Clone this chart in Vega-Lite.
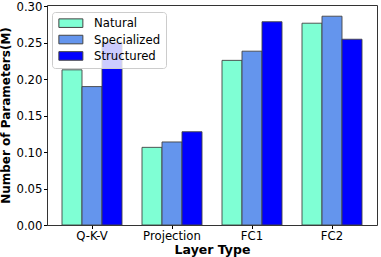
{
  "$schema": "https://vega.github.io/schema/vega-lite/v6.json",
  "width": 330,
  "height": 220,
  "autosize": {"type": "none"},
  "padding": {"left": 47, "top": 5, "right": 4, "bottom": 32},
  "config": {
    "font": "DejaVu Sans",
    "view": {"stroke": "#333", "strokeWidth": 1}
  },
  "data": {
    "values": [
      {"layer": "Q-K-V", "type": "Natural", "value": 0.213},
      {"layer": "Q-K-V", "type": "Specialized", "value": 0.190},
      {"layer": "Q-K-V", "type": "Structured", "value": 0.251},
      {"layer": "Projection", "type": "Natural", "value": 0.1066},
      {"layer": "Projection", "type": "Specialized", "value": 0.114},
      {"layer": "Projection", "type": "Structured", "value": 0.128},
      {"layer": "FC1", "type": "Natural", "value": 0.226},
      {"layer": "FC1", "type": "Specialized", "value": 0.2386},
      {"layer": "FC1", "type": "Structured", "value": 0.279},
      {"layer": "FC2", "type": "Natural", "value": 0.277},
      {"layer": "FC2", "type": "Specialized", "value": 0.2866},
      {"layer": "FC2", "type": "Structured", "value": 0.255}
    ]
  },
  "mark": {"type": "bar", "stroke": "#444", "strokeWidth": 1, "strokeOpacity": 0.9},
  "encoding": {
    "x": {
      "field": "layer",
      "type": "nominal",
      "sort": ["Q-K-V", "Projection", "FC1", "FC2"],
      "scale": {"paddingInner": 0.25, "paddingOuter": 0.1875},
      "axis": {
        "title": "Layer Type",
        "labelAngle": 0,
        "labelFontSize": 11.7,
        "labelColor": "#000",
        "labelPadding": 2,
        "tickSize": 3.5,
        "tickColor": "#000",
        "domain": false,
        "titleFontSize": 12.5,
        "titleFontWeight": "bold",
        "titleColor": "#000",
        "titlePadding": 1
      }
    },
    "xOffset": {"field": "type", "sort": ["Natural", "Specialized", "Structured"]},
    "y": {
      "field": "value",
      "type": "quantitative",
      "scale": {"domain": [0, 0.302], "nice": false},
      "axis": {
        "values": [0, 0.05, 0.1, 0.15, 0.2, 0.25, 0.3],
        "format": ".2f",
        "grid": false,
        "domain": false,
        "title": "Number of Parameters(M)",
        "labelFontSize": 11.7,
        "labelColor": "#000",
        "labelPadding": 1.5,
        "tickSize": 3.5,
        "tickColor": "#000",
        "titleFontSize": 12,
        "titleFontWeight": "bold",
        "titleColor": "#000",
        "titlePadding": 3
      }
    },
    "color": {
      "field": "type",
      "type": "nominal",
      "sort": ["Natural", "Specialized", "Structured"],
      "scale": {
        "domain": ["Natural", "Specialized", "Structured"],
        "range": ["#7FFFD4", "#6495ED", "#0000FF"]
      },
      "legend": {
        "title": null,
        "orient": "none",
        "legendX": 5,
        "legendY": 7,
        "symbolType": "M-1,-1H4.6V1H-1Z",
        "symbolSize": 73.5,
        "symbolStrokeColor": "#444",
        "symbolStrokeWidth": 1,
        "symbolOpacity": 1,
        "labelFontSize": 11.7,
        "labelColor": "#000",
        "labelOffset": 25,
        "rowPadding": 2.4,
        "padding": 5.3,
        "fillColor": "rgba(255,255,255,0.8)",
        "strokeColor": "#cccccc",
        "cornerRadius": 3
      }
    }
  }
}
